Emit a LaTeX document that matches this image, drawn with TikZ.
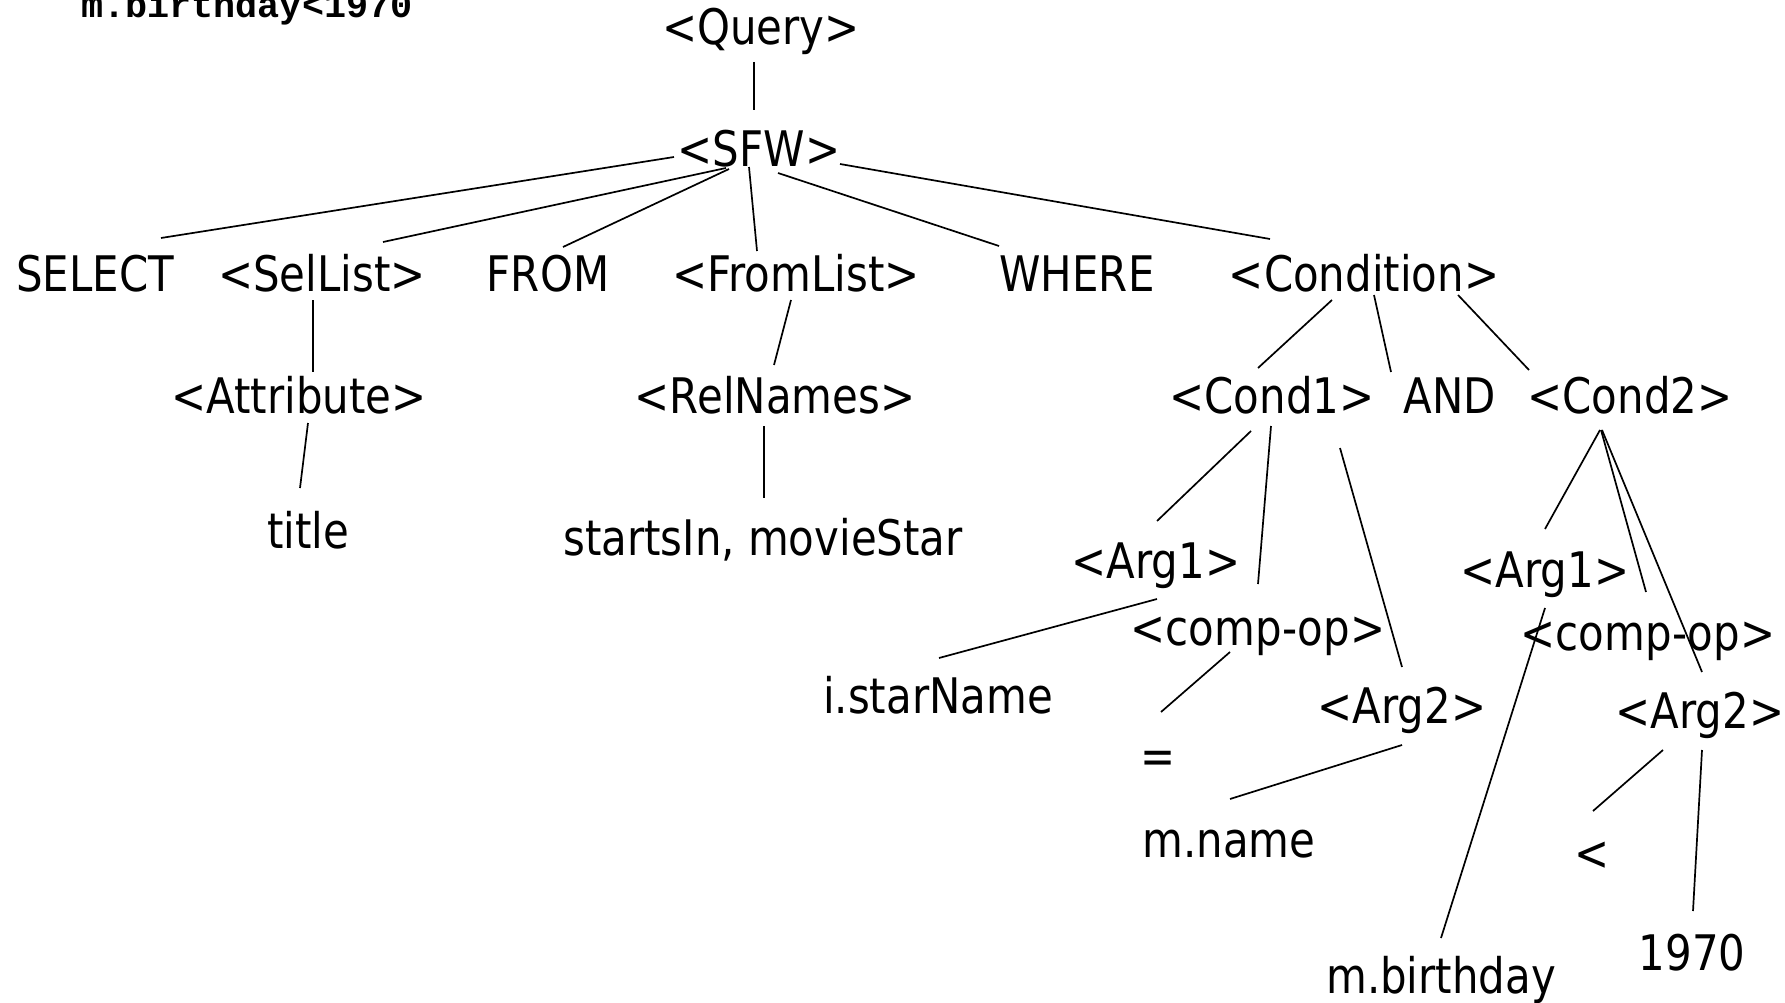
\documentclass[tikz,border=0pt]{standalone}
\usepackage{fontspec}
\setmainfont{DejaVu Sans}[FakeStretch=0.855]
\newfontfamily\monob{Liberation Mono}
\begin{document}
\begin{tikzpicture}[x=1pt,y=-1pt,
  lbl/.style={inner sep=0pt,outer sep=0pt,anchor=base,font=\fontsize{49}{58}\selectfont},
  edge/.style={line width=1.7pt,line cap=butt}]
\useasboundingbox (0,0) rectangle (1785,1003);
\fill[white] (0,0) rectangle (1785,1003);
% top-left note
\node[inner sep=0pt,anchor=base west,font=\monob\bfseries\fontsize{36.8}{40}\selectfont] (note) at (81,18) {m.birthday<1970};
% nodes
\node[lbl] (q) at (761,45) {<Query>};
\node[lbl] (sfw) at (759,167) {<SFW>};
\node[lbl] (sel) at (95,291) {SELECT};
\node[lbl] (sl) at (322,291) {<SelList>};
\node[lbl] (from) at (548,291) {FROM};
\node[lbl] (fl) at (796,291) {<FromList>};
\node[lbl] (where) at (1077,291) {WHERE};
\node[lbl] (cond) at (1364,291) {<Condition>};
\node[lbl] (attr) at (299,413) {<Attribute>};
\node[lbl] (rn) at (775,413) {<RelNames>};
\node[lbl] (title) at (308,548) {title};
\node[lbl] (rels) at (763,555) {startsIn, movieStar};
\node[lbl] (c1) at (1272,413) {<Cond1>};
\node[lbl] (and) at (1450,413) {AND};
\node[lbl] (c2) at (1630,413) {<Cond2>};
\node[lbl] (a1l) at (1156,578) {<Arg1>};
\node[lbl] (cpl) at (1258,645) {<comp-op>};
\node[lbl] (isn) at (938,713) {i.starName};
\node[lbl] (a2l) at (1402,723) {<Arg2>};
\node[lbl] (eq) at (1158,773) {=};
\node[lbl] (mname) at (1229,857) {m.name};
\node[lbl] (a1r) at (1545,587) {<Arg1>};
\node[lbl] (cpr) at (1648,650) {<comp-op>};
\node[lbl] (a2r) at (1700,728) {<Arg2>};
\node[lbl] (lt) at (1592,870) {<};
\node[lbl] (y1970) at (1692,970) {1970};
\node[lbl] (mbd) at (1441,993) {m.birthday};
% edges
\draw[edge] ([shift={(-7,17)}]q.base) -- ([shift={(-5,-57)}]sfw.base);
\draw[edge] ([shift={(-85,-10)}]sfw.base) -- ([shift={(66,-53)}]sel.base);
\draw[edge] ([shift={(-33,1)}]sfw.base) -- ([shift={(61,-49)}]sl.base);
\draw[edge] ([shift={(-30,2)}]sfw.base) -- ([shift={(15,-44)}]from.base);
\draw[edge] ([shift={(-10,0)}]sfw.base) -- ([shift={(-39,-40)}]fl.base);
\draw[edge] ([shift={(19,6)}]sfw.base) -- ([shift={(-78,-45)}]where.base);
\draw[edge] ([shift={(81,-3)}]sfw.base) -- ([shift={(-94,-52)}]cond.base);
\draw[edge] ([shift={(-9,9)}]sl.base) -- ([shift={(14,-41)}]attr.base);
\draw[edge] ([shift={(-5,9)}]fl.base) -- ([shift={(-1,-48)}]rn.base);
\draw[edge] ([shift={(9,10)}]attr.base) -- ([shift={(-8,-60)}]title.base);
\draw[edge] ([shift={(-11,13)}]rn.base) -- ([shift={(1,-57)}]rels.base);
\draw[edge] ([shift={(-32,9)}]cond.base) -- ([shift={(-14,-45)}]c1.base);
\draw[edge] ([shift={(10,4)}]cond.base) -- ([shift={(-59,-41)}]and.base);
\draw[edge] ([shift={(94,4)}]cond.base) -- ([shift={(-101,-43)}]c2.base);
\draw[edge] ([shift={(-21,18)}]c1.base) -- ([shift={(1,-57)}]a1l.base);
\draw[edge] ([shift={(-1,13)}]c1.base) -- ([shift={(0,-61)}]cpl.base);
\draw[edge] ([shift={(68,35)}]c1.base) -- ([shift={(0,-56)}]a2l.base);
\draw[edge] ([shift={(-30,17)}]c2.base) -- ([shift={(0,-58)}]a1r.base);
\draw[edge] ([shift={(-29,17)}]c2.base) -- ([shift={(-2,-58)}]cpr.base);
\draw[edge] ([shift={(-28,17)}]c2.base) -- ([shift={(2,-56)}]a2r.base);
\draw[edge] ([shift={(1,21)}]a1l.base) -- ([shift={(1,-55)}]isn.base);
\draw[edge] ([shift={(-28,7)}]cpl.base) -- ([shift={(3,-61)}]eq.base);
\draw[edge] ([shift={(0,22)}]a2l.base) -- ([shift={(1,-58)}]mname.base);
\draw[edge] ([shift={(0,21)}]a1r.base) -- ([shift={(0,-55)}]mbd.base);
\draw[edge] ([shift={(-37,22)}]a2r.base) -- ([shift={(1,-59)}]lt.base);
\draw[edge] ([shift={(2,22)}]a2r.base) -- ([shift={(1,-59)}]y1970.base);
\end{tikzpicture}
\end{document}
